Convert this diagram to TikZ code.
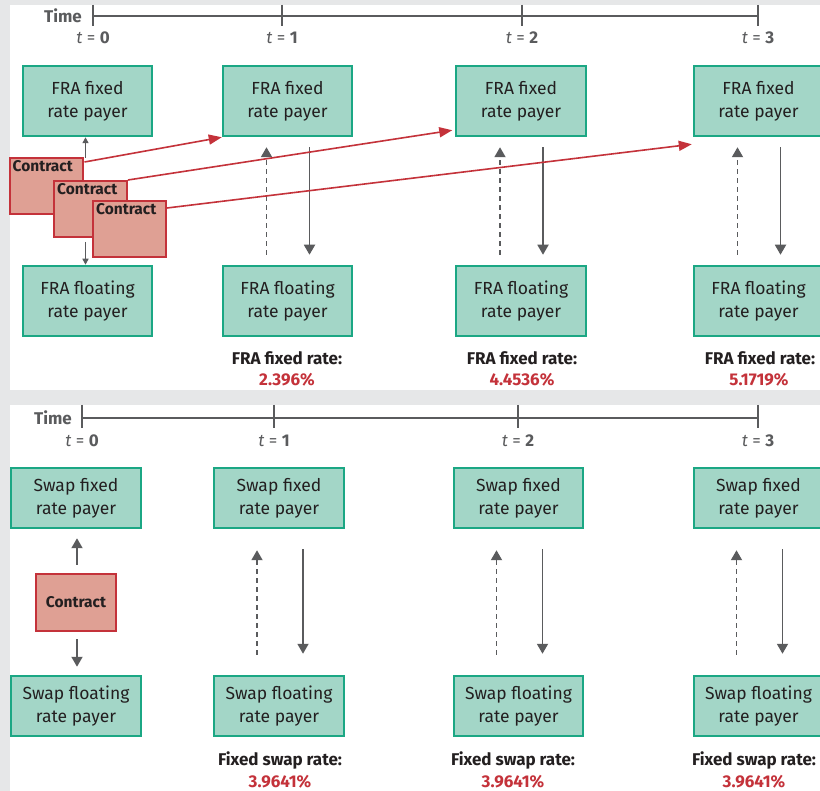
\documentclass[tikz,border=0pt]{standalone}
\usepackage{fontspec}
\setmainfont{Fira Sans}
\usetikzlibrary{arrows.meta,positioning,calc}
\definecolor{Mint}{HTML}{A3D6C7}
\definecolor{Jade}{HTML}{1BA784}
\definecolor{Salmon}{HTML}{DFA094}
\definecolor{Crimson}{HTML}{C4323A}
\definecolor{Slate}{HTML}{5A5B5D}
\definecolor{Ink}{HTML}{231F20}
\definecolor{Paper}{HTML}{E6E7E8}

\begin{document}
\begin{tikzpicture}[x=1pt,y=-1pt,
  party/.style={draw=Jade,fill=Mint,line width=2pt,minimum width=129.5pt,align=center,
    inner sep=0pt,text=Ink,font=\fontsize{17.5}{23}\selectfont},
  deal/.style={draw=Crimson,fill=Salmon,line width=2pt,inner sep=0pt,text=Ink,
    font=\fontsize{15.5}{18}\selectfont\bfseries},
  axis/.style={draw=Slate,line width=1.5pt},
  tlab/.style={text=Slate,font=\fontsize{17}{18}\selectfont},
  rate/.style={text=Ink,font=\fontsize{17}{18}\selectfont\bfseries},
  val/.style={text=Crimson,font=\fontsize{17}{18}\selectfont\bfseries},
  flow/.style={draw=Slate,line width=1.8pt,-{Triangle[length=10pt,width=11pt]}},
  lean/.style={draw=Slate,line width=1.4pt,-{Triangle[length=6pt,width=6pt]}},
  link/.style={draw=Crimson,line width=1.6pt,-{Triangle[length=13pt,width=10pt]}}]
  \useasboundingbox (0,0) rectangle (820,791);
  \clip (0,0) rectangle (820,791);
  \fill[Paper] (0,0) rectangle (820,791);
  \fill[white] (10,5) rectangle (820,390);
  \fill[white] (10,405) rectangle (820,791);

  % FRA panel
  \node[tlab,font=\fontsize{17}{18}\selectfont\bfseries] (timea) at (63,16) {Time};
  \draw[axis] (93,16) -- (758,16);
  \foreach \n/\x in {0/93,1/282,2/522,3/758}{
    \draw[axis] (\x,5) -- (\x,26);
    \node[tlab] (ta\n) at (\x,38) {\textit{t} = \textbf{\n}};
  }
  \foreach \i/\x in {0/87.5,1/287.5,2/521,3/758.5}{
    \node[party,minimum height=70.5pt] (ffix\i) at (\x,101) {FRA fixed\\rate payer};
    \node[party,minimum height=70.5pt] (fflt\i) at (\x,301) {FRA floating\\rate payer};
  }
  \foreach \i/\x in {1/287,2/522,3/760}{
    \node[rate] (frl\i) at (\x,358) {FRA fixed rate:};
    \draw[flow,dashed,dash pattern=on 5pt off 4pt] ($(fflt\i.north)+(-21,-10)$) -- ($(ffix\i.south)+(-21,10)$);
    \draw[flow] ($(ffix\i.south)+(22,10)$) -- ($(fflt\i.north)+(22,-10)$);
  }
  \node[val] (frv1) at (287,380) {2.396\%};
  \node[val] (frv2) at (522,380) {4.4536\%};
  \node[val] (frv3) at (759,380) {5.1719\%};

  \coordinate (c0up) at (85.5,158);
  \coordinate (c0dn) at (85.5,242);
  \draw[lean] (c0up) -- (c0up |- ffix0.south);
  \draw[lean] (c0dn) -- (c0dn |- fflt0.north);

  \foreach \k/\x/\y in {1/46/186,2/90.5/209,3/129.5/229}{
    \node[deal,minimum width=73pt,minimum height=56pt,
      label={[text=Ink,font=\fontsize{15.5}{18}\selectfont\bfseries,anchor=north west,inner xsep=4pt,inner ysep=3pt]north west:Contract}] (c\k) at (\x,\y) {};
  }
  \draw[link] ($(c1.north east)+(1,5)$) -- (ffix1.south west);
  \draw[link] (c2.north east) -- ($(ffix2.south west)+(-3,-7)$);
  \draw[link] ($(c3.north east)+(0,8)$) -- ($(ffix3.south west)+(-1,7)$);

  % Swap panel
  \node[tlab,font=\fontsize{17}{18}\selectfont\bfseries] (timeb) at (53,418) {Time};
  \draw[axis] (82,418) -- (758,418);
  \foreach \n/\x in {0/82,1/274,2/518,3/758}{
    \draw[axis] (\x,405) -- (\x,428);
    \node[tlab] (tb\n) at (\x,441) {\textit{t} = \textbf{\n}};
  }
  \foreach \i/\x in {0/76,1/279,2/518.5,3/758.5}{
    \node[party,minimum height=60.5pt] (sfix\i) at (\x,498) {Swap fixed\\rate payer};
    \node[party,minimum height=60.5pt] (sflt\i) at (\x,706) {Swap floating\\rate payer};
  }
  \foreach \i/\x in {1/280,2/513,3/754}{
    \node[rate] (srl\i) at (\x,760) {Fixed swap rate:};
    \node[val] (srv\i) at (\x,782) {3.9641\%};
    \draw[flow,dashed,dash pattern=on 5pt off 4pt] ($(sflt\i.north)+(-22,-20)$) -- ($(sfix\i.south)+(-22,21)$);
    \draw[flow] ($(sfix\i.south)+(24,20)$) -- ($(sflt\i.north)+(24,-21)$);
  }
  \node[deal,minimum width=80pt,minimum height=57pt] (sc) at (76,602.5) {Contract};
  \draw[flow] ($(sc.north)+(1,-8)$) -- ($(sfix0.south)+(1,9)$);
  \draw[flow] ($(sc.south)+(1,7)$) -- ($(sflt0.north)+(1,-8)$);
\end{tikzpicture}
\end{document}
